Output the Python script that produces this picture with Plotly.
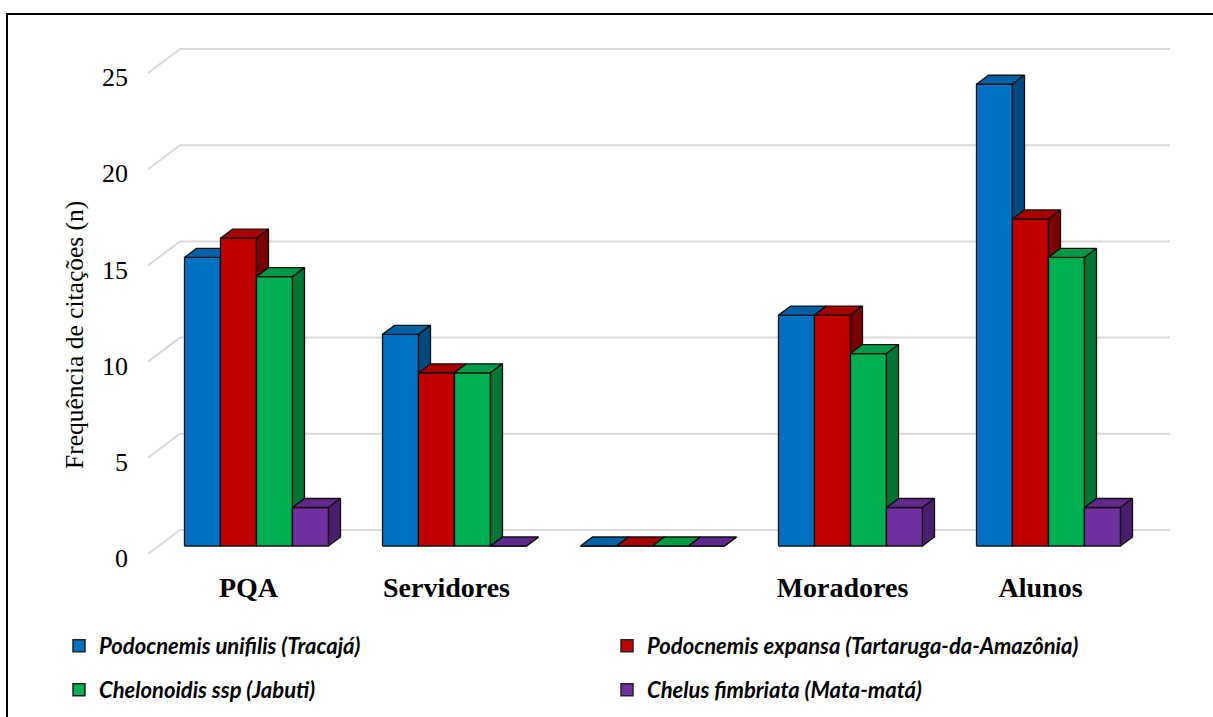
import plotly.graph_objects as go

# ---------------- data ----------------
categories = ["PQA", "Servidores", "", "Moradores", "Alunos"]
series_names = [
    "Podocnemis unifilis (Tracajá)",
    "Podocnemis expansa (Tartaruga-da-Amazônia)",
    "Chelonoidis ssp (Jabuti)",
    "Chelus fimbriata (Mata-matá)",
]
tracaja = [15, 11, 0, 12, 24]
tartaruga = [16, 9, 0, 12, 17]
jabuti = [14, 9, 0, 10, 15]
matamata = [2, 0, 0, 2, 2]
y_ticks = [0, 5, 10, 15, 20, 25]
y_title = "Frequência de citações (n)"

series_values = [tracaja, tartaruga, jabuti, matamata]

# ---------------- style ----------------
front_colors = ["#0070C0", "#C00000", "#00B050", "#7030A0"]
top_colors = ["#0061A8", "#A60000", "#009A46", "#60288C"]
side_colors = ["#004A82", "#7A0000", "#007535", "#4A1E6C"]

W, H = 1213, 717
PL, PR, PT, PB = 134, 1185, 40, 565          # plot area in page pixels
CAT_PX = 198.0                                # pixels per category
VAL_PX = 19.24                                # pixels per value unit
CAT0_PX = 256.5                               # page x of first category centre
ZERO_PX = 546.0                               # page y of value 0 (bar plane)

x_range = [(PL - CAT0_PX) / CAT_PX, (PR - CAT0_PX) / CAT_PX]
y_range = [(ZERO_PX - PB) / VAL_PX, (ZERO_PX - PT) / VAL_PX]

bar_w = 36.0 / CAT_PX
n_ser = len(series_values)
ddx, ddy = 12.0 / CAT_PX, 9.0 / VAL_PX        # bar depth
fdx, fdy = -9.5 / CAT_PX, -8.0 / VAL_PX       # front plane offset
bdx, bdy = 22.5 / CAT_PX, 16.0 / VAL_PX       # back wall offset
grid_end = (1170 - CAT0_PX) / CAT_PX
grid_start = (148 - CAT0_PX) / CAT_PX

fig = go.Figure()

# gridlines on the back wall, with the diagonal to the front plane
gx, gy = [], []
for t in y_ticks:
    gx += [grid_start, grid_start + (bdx - fdx), grid_end, None]
    gy += [t + fdy, t + bdy, t + bdy, None]
fig.add_trace(go.Scatter(x=gx, y=gy, mode="lines", line=dict(color="#d9d9d9", width=2),
                         hoverinfo="skip", showlegend=False))

# 3D bars: front, top and side faces as polygons in data coordinates
for s, vals in enumerate(series_values):
    fx, fy, tx, ty, sx, sy = [], [], [], [], [], []
    for g, v in enumerate(vals):
        left = g - n_ser * bar_w / 2 + s * bar_w
        right = left + bar_w
        fx += [left, right, right, left, left, None]
        fy += [0, 0, v, v, 0, None]
        tx += [left, right, right + ddx, left + ddx, left, None]
        ty += [v, v, v + ddy, v + ddy, v, None]
        sx += [right, right + ddx, right + ddx, right, right, None]
        sy += [0, ddy, v + ddy, v, 0, None]
    for xs, ys, col in ((fx, fy, front_colors[s]), (tx, ty, top_colors[s]), (sx, sy, side_colors[s])):
        fig.add_trace(go.Scatter(x=xs, y=ys, mode="lines", fill="toself", fillcolor=col,
                                 line=dict(color="#111111", width=1.3),
                                 hoverinfo="skip", showlegend=False))

# legend entries (two rows -> two legends)
for s, name in enumerate(series_names):
    fig.add_trace(go.Scatter(x=[None], y=[None], mode="markers", name=name,
                             marker=dict(symbol="square", size=12, color=front_colors[s],
                                         line=dict(color="#222222", width=1.5)),
                             legend="legend" if s < 2 else "legend2"))

def px2paper_x(p):
    return (p - PL) / (PR - PL)

def px2paper_y(p):
    return (PB - p) / (PB - PT)

legend_font = dict(family="Lato, DejaVu Sans Condensed, sans-serif",
                   size=22, color="black", weight="bold", style="italic")
common_leg = dict(orientation="h", xanchor="left", yanchor="middle", font=legend_font,
                  entrywidth=503, entrywidthmode="pixels", bgcolor="rgba(0,0,0,0)",
                  x=px2paper_x(59))
fig.update_layout(
    legend=dict(**common_leg, y=px2paper_y(646)),
    legend2=dict(**common_leg, y=px2paper_y(690)),
)

fig.update_layout(
    width=W, height=H, autosize=False,
    margin=dict(l=PL, r=W - PR, t=PT, b=H - PB, pad=0, autoexpand=False),
    paper_bgcolor="white", plot_bgcolor="white",
    xaxis=dict(range=x_range, tickmode="array", tickvals=list(range(len(categories))),
               ticktext=categories, showgrid=False, zeroline=False, showline=False,
               ticks="", ticklabelshift=-8, ticklabelstandoff=3,
               tickfont=dict(family="Liberation Serif", size=28, color="black", weight="bold")),
    yaxis=dict(range=y_range, tickmode="array", tickvals=y_ticks,
               ticktext=[str(t) for t in y_ticks], showgrid=False, zeroline=False,
               showline=False, ticks="", ticklabelshift=12, ticklabelstandoff=5,
               tickfont=dict(family="Liberation Serif", size=26, color="black")),
    annotations=[dict(text=y_title, xref="paper", yref="paper", x=px2paper_x(74), y=px2paper_y(335),
                      textangle=-90, showarrow=False, xanchor="center", yanchor="middle",
                      font=dict(family="Liberation Serif", size=25.5, color="black"))],
    shapes=[dict(type="rect", xref="paper", yref="paper",
                 x0=px2paper_x(7), x1=px2paper_x(1216), y0=px2paper_y(720), y1=px2paper_y(14),
                 line=dict(color="black", width=2), fillcolor="rgba(0,0,0,0)")],
)

fig.write_html("out.html", post_script="document.body.style.margin='0px';",
               config={"displayModeBar": False})
